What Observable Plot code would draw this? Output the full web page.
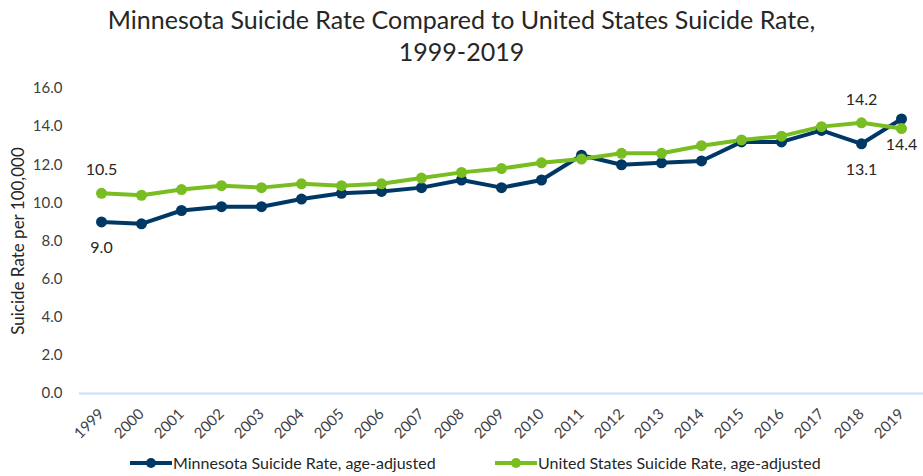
<!DOCTYPE html>
<html>
<head>
<meta charset="utf-8">
<script src="https://cdn.jsdelivr.net/npm/d3@7"></script>
<script src="https://cdn.jsdelivr.net/npm/@observablehq/plot@0.6"></script>
<style>
  body { margin: 0; background: #fff; font-family: Lato, "Open Sans", sans-serif; }
  #wrap { width: 923px; height: 476px; overflow: hidden; }
  #title { height: 75px; box-sizing: border-box; padding-top: 3px; text-align: center; font-size: 25px; line-height: 32px; color: #262626; }
  #legend { font-size: 16px; color: #262626; height: 26px; }
  .item { display: flex; align-items: center; position: absolute; }
</style>
</head>
<body>
<div id="wrap">
  <div id="title">Minnesota Suicide Rate Compared to United States Suicide Rate,<br>1999-2019</div>
  <div id="chart"></div>
  <div id="legend" style="position:relative"></div>
</div>
<script>
const years = [1999,2000,2001,2002,2003,2004,2005,2006,2007,2008,2009,2010,2011,2012,2013,2014,2015,2016,2017,2018,2019];
const mnRates = [9.0,8.9,9.6,9.8,9.8,10.2,10.5,10.6,10.8,11.2,10.8,11.2,12.5,12.0,12.1,12.2,13.2,13.2,13.8,13.1,14.4];
const usRates = [10.5,10.4,10.7,10.9,10.8,11.0,10.9,11.0,11.3,11.6,11.8,12.1,12.3,12.6,12.6,13.0,13.3,13.5,14.0,14.2,13.9];
const yTicks = [0,2,4,6,8,10,12,14,16];
const yLabel = "Suicide Rate per 100,000";
const mnLabelYears = [1999, 2018, 2019];
const usLabelYears = [1999, 2018];
const seriesNames = ["Minnesota Suicide Rate, age-adjusted", "United States Suicide Rate, age-adjusted"];
const colors = ["#003865", "#78BE21"];

const mn = years.map((y, i) => ({year: y, rate: mnRates[i]}));
const us = years.map((y, i) => ({year: y, rate: usRates[i]}));
const mnLab = mn.filter(d => mnLabelYears.includes(d.year));
const usLab = us.filter(d => usLabelYears.includes(d.year));

const chart = Plot.plot({
  width: 923,
  height: 375,
  marginLeft: 79,
  marginRight: 0,
  marginTop: 13,
  marginBottom: 57,
  style: {fontFamily: "Lato, 'Open Sans', sans-serif", color: "#404040", background: "#fff"},
  x: {type: "point", domain: years, padding: 0.5},
  y: {domain: [0, 16]},
  marks: [
    Plot.ruleY([0], {stroke: "#c5dff5", strokeWidth: 2}),
    Plot.axisY({ticks: yTicks, tickFormat: d => d.toFixed(1), tickSize: 0, tickPadding: 17, fontSize: 15, label: null}),
    Plot.text([yLabel], {frameAnchor: "left", textAnchor: "middle", rotate: -90, dx: -61, fontSize: 17, fill: "#262626", text: d => d}),
    Plot.axisX({tickFormat: d => String(d), tickSize: 0, tickPadding: 18, tickRotate: -45, fontSize: 15, label: null}),
    Plot.line(mn, {x: "year", y: "rate", stroke: colors[0], strokeWidth: 4}),
    Plot.line(us, {x: "year", y: "rate", stroke: colors[1], strokeWidth: 4}),
    Plot.dot(mn, {x: "year", y: "rate", fill: colors[0], r: 5.5}),
    Plot.dot(us, {x: "year", y: "rate", fill: colors[1], r: 5.5}),
    Plot.text(mnLab, {x: "year", y: "rate", text: d => d.rate.toFixed(1), dy: 26, fontSize: 16, fill: "#262626"}),
    Plot.text(usLab, {x: "year", y: "rate", text: d => d.rate.toFixed(1), dy: -23, fontSize: 16, fill: "#262626"})
  ]
});
document.getElementById("chart").appendChild(chart);

const legend = document.getElementById("legend");
const lx = [130, 495];
seriesNames.forEach((name, i) => {
  const it = document.createElement("div");
  it.className = "item";
  it.style.left = lx[i] + "px";
  it.style.top = "3px";
  it.innerHTML = `<svg width="42" height="14"><line x1="0" y1="7" x2="42" y2="7" stroke="${colors[i]}" stroke-width="4"/><circle cx="21" cy="7" r="5" fill="${colors[i]}"/></svg><span style="margin-left:1px">${name}</span>`;
  legend.appendChild(it);
});
</script>
</body>
</html>
